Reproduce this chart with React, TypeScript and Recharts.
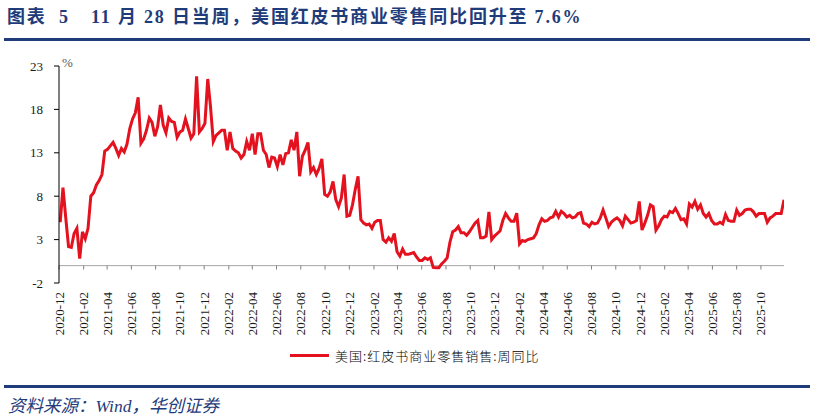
import React from 'react';
import { LineChart, Line, XAxis, YAxis, ReferenceLine } from 'recharts';

// weekly Redbook same-store sales, % YoY, first week ending 2020-12-04
const START_DATE = '2020-12-04';

const redbookYoy: number[] = [
  5.0, 9.0, 5.5, 2.2, 2.1, 3.7, 4.3, 0.8, 3.9, 3.1,
  4.3, 8.0, 8.4, 9.3, 9.8, 10.5, 13.2, 13.4, 13.8, 14.2,
  13.5, 12.7, 13.5, 13.1, 14.0, 15.8, 16.9, 17.6, 19.4, 14.1,
  14.6, 15.6, 17.0, 16.5, 14.9, 16.0, 18.5, 16.2, 15.3, 17.0,
  16.6, 16.5, 14.8, 15.4, 15.6, 16.9, 15.8, 14.7, 15.2, 21.8,
  15.4, 15.8, 16.4, 21.5, 18.3, 14.3, 15.0, 15.3, 15.6, 15.6,
  13.3, 15.4, 13.5, 13.2, 13.0, 12.4, 12.8, 14.3, 13.3, 15.2,
  12.8, 15.2, 15.2, 13.3, 12.8, 11.3, 12.5, 12.4, 11.4, 12.8,
  11.6, 12.9, 13.0, 14.5, 13.3, 15.4, 10.3, 12.6, 13.3, 14.2,
  10.8, 11.3, 10.5, 11.2, 12.3, 8.2, 8.0, 8.5, 9.7, 7.6,
  6.8, 7.8, 10.5, 5.7, 5.8, 7.0, 8.8, 10.3, 5.3, 4.9,
  4.7, 4.8, 4.3, 5.0, 5.2, 5.2, 3.0, 2.7, 3.2, 2.8,
  3.7, 1.6, 1.1, 1.9, 1.3, 1.3, 1.4, 1.5, 1.0, 0.6,
  0.6, 0.9, 0.7, 0.9, -0.2, -0.25, -0.25, 0.2, 0.5, 0.9,
  2.7, 3.9, 4.1, 4.5, 3.8, 3.8, 3.5, 3.9, 4.4, 4.9,
  5.2, 3.2, 3.2, 3.4, 6.2, 3.0, 3.4, 3.7, 4.0, 5.2,
  6.0, 5.5, 5.1, 5.1, 6.05, 2.5, 2.9, 2.8, 3.0, 3.1,
  3.2, 3.7, 4.7, 5.4, 5.1, 5.2, 5.5, 5.6, 6.25, 5.6,
  6.25, 6.0, 5.6, 5.8, 5.5, 5.6, 6.0, 6.1, 4.9, 4.8,
  4.5, 5.0, 4.8, 4.9, 5.5, 6.4, 5.5, 4.5, 5.0, 5.3,
  5.5, 5.2, 4.6, 5.7, 5.3, 4.9, 5.0, 5.2, 7.4, 4.1,
  4.9, 5.8, 7.0, 6.8, 4.1, 4.6, 5.3, 5.7, 5.6, 6.25,
  6.1, 6.6, 6.0, 5.3, 5.4, 4.8, 7.1, 6.75, 7.4, 6.5,
  7.0, 6.0, 5.6, 6.0, 5.2, 4.8, 4.8, 5.0, 4.8, 5.9,
  5.2, 5.1, 5.1, 6.4, 5.8, 6.0, 6.4, 6.5, 6.5, 6.2,
  5.7, 6.0, 6.0, 6.0, 5.0, 5.5, 5.7, 6.0, 6.0, 6.0,
  7.6,
];

const xTickLabels = [
  '2020-12',
  '2021-02', '2021-04', '2021-06', '2021-08', '2021-10', '2021-12',
  '2022-02', '2022-04', '2022-06', '2022-08', '2022-10', '2022-12',
  '2023-02', '2023-04', '2023-06', '2023-08', '2023-10', '2023-12',
  '2024-02', '2024-04', '2024-06', '2024-08', '2024-10', '2024-12',
  '2025-02', '2025-04', '2025-06', '2025-08', '2025-10',
];

const yTicks = [-2, 3, 8, 13, 18, 23];

const DAY = 86400000;
const startMs = Date.parse(START_DATE);
const chartData = redbookYoy.map((v, i) => ({ t: startMs + i * 7 * DAY, v }));
const xTicks = xTickLabels.map((s) => Date.parse(s + '-01'));
const xDomain = [xTicks[0], chartData[chartData.length - 1].t];

const fmtMonth = (t: number) => {
  const d = new Date(t);
  return `${d.getUTCFullYear()}-${String(d.getUTCMonth() + 1).padStart(2, '0')}`;
};

const NAVY = '#1F3C7A';
const RED = '#E3121E';
const SERIF = '"Liberation Serif", "Times New Roman", "Noto Sans CJK SC", serif';

const XTick = ({ x, y, payload }: any) => (
  <text
    x={x}
    y={y}
    transform={`rotate(-90, ${x}, ${y})`}
    textAnchor="end"
    dy="0.35em"
    fontSize={13}
    fontFamily={SERIF}
    fill="#1a1a1a"
  >
    {fmtMonth(payload.value)}
  </text>
);

const titleStyle: React.CSSProperties = {
  position: 'absolute',
  top: 5,
  fontSize: 18,
  fontWeight: 'bold',
  color: NAVY,
  whiteSpace: 'pre',
  lineHeight: '24px',
  letterSpacing: 1.8,
};

export default function App() {
  return (
    <div
      style={{
        position: 'absolute',
        left: 0,
        top: 0,
        width: 814,
        height: 417,
        background: '#fff',
        overflow: 'hidden',
        fontFamily: SERIF,
      }}
    >
      <div style={{ ...titleStyle, left: 7 }}>图表</div>
      <div style={{ ...titleStyle, left: 59 }}>5</div>
      <div style={{ ...titleStyle, left: 91 }}>{'11 月 28 日当周，美国红皮书商业零售同比回升至 7.6%'}</div>
      <div style={{ position: 'absolute', left: 4, top: 38, width: 806, height: 3, background: NAVY }} />

      <LineChart
        width={814}
        height={417}
        data={chartData}
        margin={{ top: 66, right: 30, left: 9, bottom: 74 }}
        style={{ position: 'absolute', left: 0, top: 0 }}
      >
        <XAxis
          dataKey="t"
          type="number"
          domain={xDomain}
          ticks={xTicks}
          interval={0}
          allowDataOverflow
          axisLine={false}
          tickLine={false}
          tickSize={0}
          tickMargin={9}
          height={60}
          tick={<XTick />}
        />
        <YAxis
          domain={[-2, 23]}
          ticks={yTicks}
          interval={0}
          allowDataOverflow
          width={50}
          tickSize={5}
          tickMargin={11}
          axisLine={{ stroke: '#000' }}
          tickLine={{ stroke: '#000' }}
          tick={{ fontSize: 13, fill: '#1a1a1a', fontFamily: SERIF }}
        />
        <ReferenceLine y={0} stroke="#a6a6a6" strokeWidth={1} />
        {xTicks.map((t) => (
          <ReferenceLine
            key={t}
            segment={[{ x: t, y: 0 }, { x: t, y: -0.45 }]}
            stroke="#808080"
          />
        ))}
        <Line
          type="linear"
          dataKey="v"
          stroke={RED}
          strokeWidth={3}
          dot={false}
          isAnimationActive={false}
        />
      </LineChart>

      <div style={{ position: 'absolute', left: 62, top: 55, fontSize: 13, color: '#595959' }}>%</div>

      <div style={{ position: 'absolute', left: 290, top: 346, display: 'flex', alignItems: 'center' }}>
        <div style={{ width: 39, height: 3, background: RED, marginRight: 6 }} />
        <span
          style={{
            fontSize: 13,
            letterSpacing: 1,
            color: '#000',
            fontWeight: 300,
            fontFamily: '"Noto Sans CJK SC", sans-serif',
          }}
        >
          美国:红皮书商业零售销售:周同比
        </span>
      </div>

      <div style={{ position: 'absolute', left: 4, top: 385, width: 806, height: 3, background: NAVY }} />
      <div
        style={{
          position: 'absolute',
          left: 8,
          top: 392,
          fontSize: 17.5,
          fontStyle: 'italic',
          color: NAVY,
          whiteSpace: 'pre',
        }}
      >
        资料来源：Wind，华创证券
      </div>
    </div>
  );
}
